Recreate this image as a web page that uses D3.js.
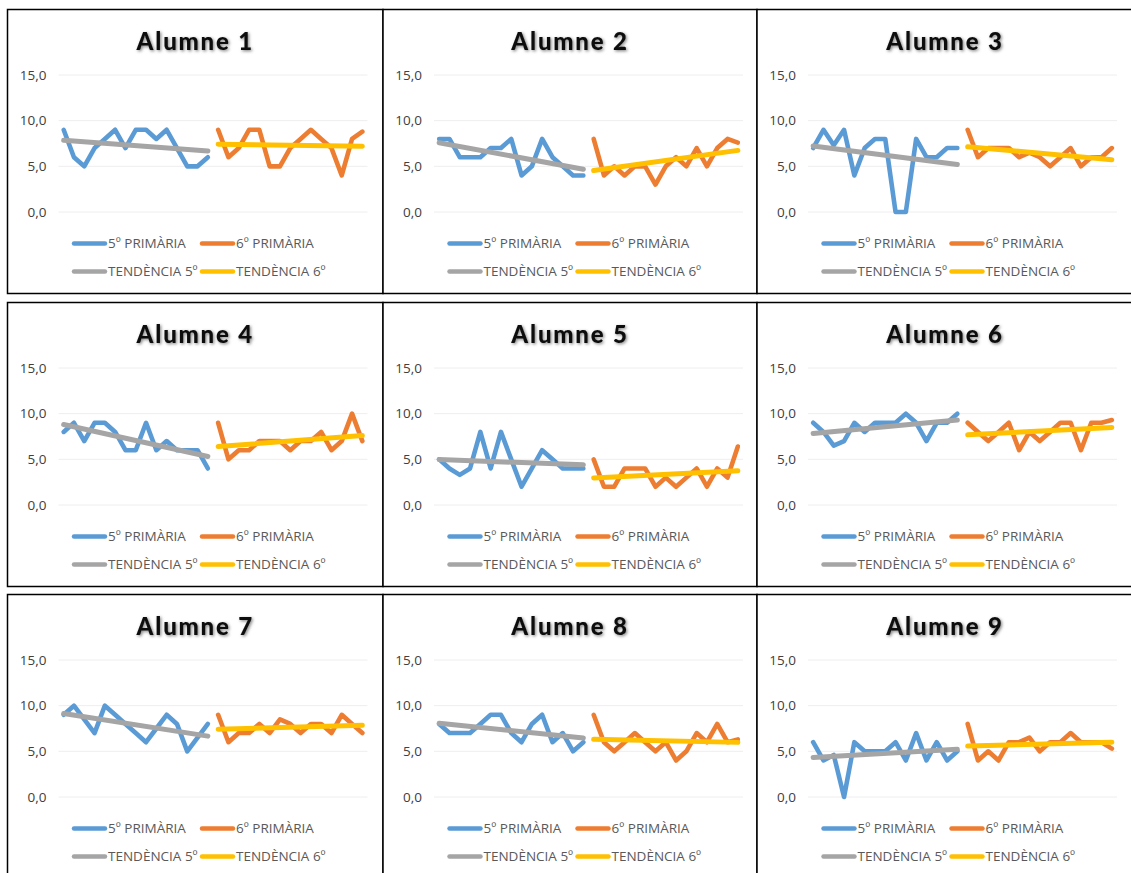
<!DOCTYPE html>
<html>
<head>
<meta charset="utf-8">
<script src="https://cdn.jsdelivr.net/npm/d3@7"></script>
<style>
  html, body { margin: 0; padding: 0; background: #ffffff; }
  svg { display: block; }
</style>
</head>
<body>
<svg id="chart" width="1131" height="873"></svg>
<script>
// Student names, one panel each
const alumnes = ["Alumne 1", "Alumne 2", "Alumne 3", "Alumne 4", "Alumne 5",
                 "Alumne 6", "Alumne 7", "Alumne 8", "Alumne 9"];

// Marks in 5º de primària (15 assessments per student)
const prim5 = [
  [9, 6, 5, 7, 8, 9, 7, 9, 9, 8, 9, 7, 5, 5, 6],
  [8, 8, 6, 6, 6, 7, 7, 8, 4, 5, 8, 6, 5, 4, 4],
  [7, 9, 7.3, 9, 4, 7, 8, 8, 0, 0, 8, 6, 6, 7, 7],
  [8, 9, 7, 9, 9, 8, 6, 6, 9, 6, 7, 6, 6, 6, 4],
  [5, 4, 3.3, 4, 8, 4, 8, 5, 2, 4, 6, 5, 4, 4, 4],
  [9, 8, 6.5, 7, 9, 8, 9, 9, 9, 10, 9, 7, 9, 9, 10],
  [9, 10, 8.5, 7, 10, 9, 8, 7, 6, 7.5, 9, 8, 5, 6.5, 8],
  [8, 7, 7, 7, 8, 9, 9, 7, 6, 8, 9, 6, 7, 5, 6],
  [6, 4, 4.6, 0, 6, 5, 5, 5, 6, 4, 7, 4, 6, 4, 5]
];

// Marks in 6º de primària (15 assessments per student)
const prim6 = [
  [9, 6, 7, 9, 9, 5, 5, 7, 8, 9, 8, 7, 4, 8, 8.8],
  [8, 4, 5, 4, 5, 5, 3, 5, 6, 5, 7, 5, 7, 8, 7.6],
  [9, 6, 7, 7, 7, 6, 6.5, 6, 5, 6, 7, 5, 6, 6, 7],
  [9, 5, 6, 6, 7, 7, 7, 6, 7, 7, 8, 6, 7, 10, 7],
  [5, 2, 2, 4, 4, 4, 2, 3, 2, 3, 4, 2, 4, 3, 6.4],
  [9, 8, 7, 8, 9, 6, 8, 7, 8, 9, 9, 6, 9, 9, 9.3],
  [9, 6, 7, 7, 8, 7, 8.5, 8, 7, 8, 8, 7, 9, 8, 7],
  [9, 6, 5, 6, 7, 6, 5, 6, 4, 5, 7, 6, 8, 6, 6.3],
  [8, 4, 5, 4, 6, 6, 6.5, 5, 6, 6, 7, 6, 6, 6, 5.3]
];

// Value axis
const yTicks = [0, 5, 10, 15];
const yTickLabels = ["0,0", "5,0", "10,0", "15,0"];

// Legend entries
const legendLabels = ["5º PRIMÀRIA", "6º PRIMÀRIA", "TENDÈNCIA 5º", "TENDÈNCIA 6º"];
const seriesColors = ["#5B9BD5", "#ED7D31", "#A5A5A5", "#FFC000"];

// Grid of panels
const colLefts = [7.5, 383, 757];
const colWidths = [375.5, 374, 376];
const rowTops = [9.5, 302.5, 594.5];
const rowHeight = 284;

const svg = d3.select("#chart");

const defs = svg.append("defs");
const shadow = defs.append("filter").attr("id", "titleShadow")
  .attr("x", "-20%").attr("y", "-40%").attr("width", "140%").attr("height", "180%");
shadow.append("feDropShadow")
  .attr("dx", 1.2).attr("dy", 1.2).attr("stdDeviation", 1.5)
  .attr("flood-color", "#000").attr("flood-opacity", 0.5);

// Least-squares line through (x, y) points, returned as its two end points
function trend(xs, ys) {
  const n = xs.length;
  const mx = d3.mean(xs), my = d3.mean(ys);
  let sxy = 0, sxx = 0;
  for (let i = 0; i < n; i++) {
    sxy += (xs[i] - mx) * (ys[i] - my);
    sxx += (xs[i] - mx) * (xs[i] - mx);
  }
  const b = sxy / sxx, a = my - b * mx;
  return [xs[0], xs[n - 1]].map(x => ({ x, y: a + b * x }));
}

const nPer = 15;
const categories = d3.range(nPer * 2);

alumnes.forEach((name, k) => {
  const row = Math.floor(k / 3), col = k % 3;
  const left = colLefts[col], top = rowTops[row], width = colWidths[col];
  const g = svg.append("g").attr("transform", `translate(${left},${top})`);

  g.append("rect")
    .attr("width", width).attr("height", rowHeight)
    .attr("fill", "#fff").attr("stroke", "#000").attr("stroke-width", 1.5);

  g.append("text")
    .attr("x", width / 2).attr("y", 40)
    .attr("text-anchor", "middle")
    .attr("font-family", "Lato, 'Open Sans', sans-serif")
    .attr("font-weight", 900).attr("font-size", 24)
    .attr("letter-spacing", 1.8)
    .attr("fill", "#0d0d0d")
    .attr("filter", "url(#titleShadow)")
    .text(name);

  const plotLeft = 51, plotWidth = 309;
  const x = d3.scalePoint().domain(categories)
    .range([plotLeft, plotLeft + plotWidth]).padding(0.5);
  const y = d3.scaleLinear().domain([0, 15]).range([202.5, 65.5]);

  // gridlines
  g.append("g").selectAll("line").data(yTicks).join("line")
    .attr("x1", plotLeft).attr("x2", plotLeft + plotWidth)
    .attr("y1", d => y(d)).attr("y2", d => y(d))
    .attr("stroke", "#eeeeee").attr("stroke-width", 1);

  // value axis labels
  const yAxis = d3.axisLeft(y).tickValues(yTicks)
    .tickFormat((d, i) => yTickLabels[i]).tickSize(0).tickPadding(0);
  const ax = g.append("g").attr("transform", `translate(${plotLeft - 12},0)`).call(yAxis);
  ax.select(".domain").remove();
  ax.selectAll("text")
    .attr("font-family", "'Open Sans', sans-serif")
    .attr("font-size", 13.5).attr("fill", "#404040");

  const xs5 = d3.range(nPer);
  const xs6 = d3.range(nPer, nPer * 2);
  const pts5 = xs5.map((c, i) => ({ x: c, y: prim5[k][i] }));
  const pts6 = xs6.map((c, i) => ({ x: c, y: prim6[k][i] }));
  const tr5 = trend(xs5, prim5[k]);
  const tr6 = trend(xs6, prim6[k]);

  const line = d3.line().x(d => x(d.x)).y(d => y(d.y));

  const series = [
    { pts: pts5, color: seriesColors[0], w: 4.6 },
    { pts: pts6, color: seriesColors[1], w: 4.6 },
    { pts: tr5, color: seriesColors[2], w: 5 },
    { pts: tr6, color: seriesColors[3], w: 5 }
  ];
  series.forEach(s => {
    g.append("path")
      .attr("d", line(s.pts))
      .attr("fill", "none")
      .attr("stroke", s.color)
      .attr("stroke-width", s.w)
      .attr("stroke-linejoin", "round")
      .attr("stroke-linecap", "round");
  });

  // legend: two rows, two columns
  const legPos = [
    { lx: 64.5, ly: 234 }, { lx: 192.5, ly: 234 },
    { lx: 64.5, ly: 262 }, { lx: 192.5, ly: 262 }
  ];
  legendLabels.forEach((lab, i) => {
    const p = legPos[i];
    g.append("line")
      .attr("x1", p.lx + 2).attr("x2", p.lx + 33)
      .attr("y1", p.ly).attr("y2", p.ly)
      .attr("stroke", seriesColors[i]).attr("stroke-width", 4.5)
      .attr("stroke-linecap", "round");
    g.append("text")
      .attr("x", p.lx + 36).attr("y", p.ly)
      .attr("dy", "0.35em")
      .attr("font-family", "'Open Sans', sans-serif")
      .attr("font-size", 13.5).attr("fill", "#595959")
      .text(lab);
  });
});
</script>
</body>
</html>
